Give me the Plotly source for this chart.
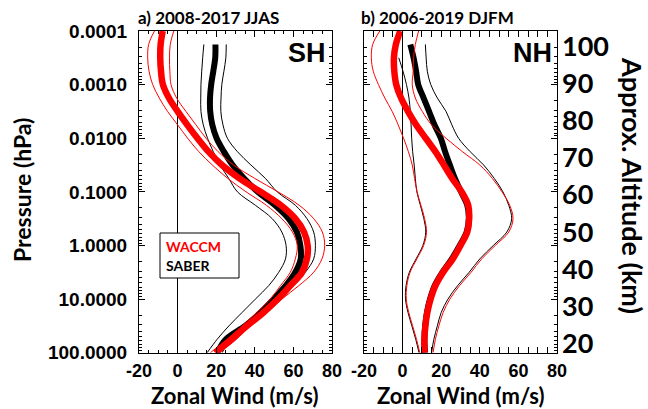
import plotly.graph_objects as go

# Pressure levels (hPa), top to bottom
PRESSURE = [0.0001, 0.000178, 0.000316, 0.000562, 0.001, 0.00178, 0.00316, 0.00562,
            0.01, 0.0178, 0.0316, 0.0562, 0.1, 0.178, 0.316, 0.562,
            1.0, 1.78, 3.16, 5.62, 10.0, 17.8, 31.6, 56.2, 100.0]

# ---- a) SH, 2008-2017 JJAS ----
SH_WACCM = [-7.7, -8.8, -9.0, -8.6, -7.6, -4.5, 0.0, 5.0, 10.3, 16.0, 23.0, 32.0, 43.0,
            53.5, 61.0, 65.5, 67.4, 67.0, 64.5, 58.4, 52.0, 44.5, 36.0, 28.0, 19.5]
SH_WACCM_LO = [-12.0, -15.0, -15.5, -14.8, -12.9, -9.5, -5.2, 0.0, 5.2, 11.0, 18.0, 26.0, 35.5,
               46.0, 54.0, 59.5, 62.0, 61.0, 58.4, 53.3, 48.0, 41.0, 33.4, 25.7, 17.0]
SH_WACCM_HI = [-2.0, -3.8, -4.2, -4.0, -3.4, -0.5, 4.3, 9.5, 14.7, 21.0, 29.0, 40.0, 52.0,
               63.0, 70.5, 75.0, 76.2, 74.8, 70.5, 62.8, 54.0, 45.5, 37.0, 30.5, 21.4]
SH_SABER = [None, 19.6, 19.5, 18.5, 17.4, 16.8, 16.9, 18.0, 20.2, 24.0, 28.5, 34.5, 41.5,
            50.5, 57.5, 61.8, 63.6, 63.8, 61.0, 56.0, 49.8, 43.0, 35.0, 25.0, 20.5]
SH_SABER_LO = [None, 13.6, 13.0, 12.5, 12.1, 12.0, 12.1, 13.3, 15.5, 18.5, 22.0, 26.5, 31.0,
               40.3, 49.0, 54.0, 56.2, 55.9, 52.4, 47.2, 40.3, 33.4, 26.6, 20.5, 15.3]
SH_SABER_HI = [None, 25.2, 25.0, 24.0, 22.9, 22.5, 22.4, 23.5, 25.8, 31.0, 38.0, 45.5, 51.6,
               61.0, 67.0, 70.5, 71.4, 70.5, 66.2, 60.2, 52.4, 43.0, 33.4, 27.0, 23.1]

# ---- b) NH, 2006-2019 DJFM ----
NH_WACCM = [-1.2, -3.5, -4.5, -4.3, -3.3, -0.8, 2.8, 7.0, 12.0, 17.0, 21.4, 25.7, 30.6,
            34.0, 34.5, 33.5, 30.0, 26.0, 21.0, 17.0, 14.5, 12.8, 11.8, 11.3, 11.3]
NH_WACCM_LO = [-11.8, -15.5, -16.2, -15.2, -12.5, -9.2, -5.4, -2.3, 0.5, 3.0, 5.0, 6.2, 7.5,
               9.5, 11.4, 12.4, 10.9, 7.4, 3.9, 2.2, 1.9, 3.2, 5.2, 7.2, 8.9]
NH_WACCM_HI = [8.3, 6.6, 5.7, 5.5, 5.0, 6.6, 10.2, 15.0, 22.5, 31.0, 40.0, 46.5, 51.5,
               55.5, 57.2, 55.0, 48.0, 41.0, 35.5, 29.5, 24.5, 21.0, 18.8, 17.0, 15.8]
NH_SABER = [None, 4.0, 5.7, 7.0, 8.1, 10.9, 13.7, 16.5, 19.8, 22.0, 24.5, 27.1, 30.3,
            33.5, 34.3, 33.2, 29.6, 25.5, 20.6, 16.6, 14.2, 12.6, 11.7, 11.3, 11.6]
NH_SABER_LO = [None, None, -2.0, 0.2, 2.0, 3.3, 4.0, 4.4, 4.7, 5.2, 6.0, 6.6, 7.4,
               9.2, 11.0, 12.0, 10.5, 7.0, 3.5, 1.8, 1.5, 2.8, 4.8, 6.8, 8.5]
NH_SABER_HI = [None, 11.8, 12.2, 12.8, 14.6, 18.0, 22.5, 25.5, 29.0, 35.0, 42.0, 47.5, 52.0,
               55.0, 56.5, 54.0, 47.0, 40.0, 34.5, 28.5, 23.5, 20.0, 18.0, 16.2, 15.0]

# Axis ticks
P_TICKS = [0.0001, 0.001, 0.01, 0.1, 1, 10, 100]
P_TICKTEXT = ["0.0001", "0.0010", "0.0100", "0.1000", "1.0000", "10.0000", "100.0000"]
P_MINOR = [m * 10.0 ** e for e in range(-4, 2) for m in range(2, 10)]
U_TICKS = [-20, 0, 20, 40, 60, 80]
U_TICKTEXT = ["-20", "0", "20", "40", "60", "80"]
U_MINOR = [v for v in range(-20, 81, 5) if v % 20 != 0]
ALT_TICKS = [20, 30, 40, 50, 60, 70, 80, 90, 100]

W, H = 648, 409
def px(x): return x / W
def py(y): return 1 - y / H

fig = go.Figure()

def add_set(xa, ya, saber, saber_lo, saber_hi, waccm, waccm_lo, waccm_hi):
    for vals, col, wd in [(saber_lo, "black", 1), (saber_hi, "black", 1), (saber, "black", 6),
                          (waccm_lo, "#ff0000", 1), (waccm_hi, "#ff0000", 1), (waccm, "#ff0000", 6.5)]:
        fig.add_trace(go.Scatter(x=vals, y=PRESSURE, mode="lines", xaxis=xa, yaxis=ya,
                                 line=dict(color=col, width=wd, shape="spline", smoothing=1.0),
                                 showlegend=False, hoverinfo="skip"))

add_set("x", "y", SH_SABER, SH_SABER_LO, SH_SABER_HI, SH_WACCM, SH_WACCM_LO, SH_WACCM_HI)
add_set("x2", "y2", NH_SABER, NH_SABER_LO, NH_SABER_HI, NH_WACCM, NH_WACCM_LO, NH_WACCM_HI)
# empty trace so the altitude axis (y3) gets drawn
fig.add_trace(go.Scatter(x=[None], y=[None], xaxis="x2", yaxis="y3", mode="lines",
                         showlegend=False, hoverinfo="skip"))

tickfont = dict(family="Liberation Sans", size=19, color="black", weight="bold")
xtickfont = dict(family="Liberation Sans", size=18, color="black", weight="bold")

xcommon = dict(range=[-20, 80], tickvals=U_TICKS, ticktext=U_TICKTEXT, ticks="inside",
               ticklen=6, tickwidth=1,
               tickcolor="black", showline=True, linecolor="black", linewidth=1,
               mirror="allticks", showgrid=False, zeroline=True, zerolinecolor="black",
               zerolinewidth=1, tickfont=xtickfont, ticklabelstandoff=2, automargin=False,
               minor=dict(tickvals=U_MINOR, ticks="inside", ticklen=3, tickcolor="black",
                          showgrid=False))
ycommon = dict(type="log", range=[2, -4], tickvals=P_TICKS, ticks="inside",
               ticklen=6, tickwidth=1, tickcolor="black", showline=True, linecolor="black",
               linewidth=1, mirror="allticks", showgrid=False, zeroline=False, automargin=False,
               minor=dict(tickvals=P_MINOR, ticks="inside", ticklen=3, tickcolor="black",
                          showgrid=False))

fig.update_layout(
    width=W, height=H, margin=dict(l=0, r=0, t=0, b=0, pad=0, autoexpand=False),
    paper_bgcolor="white", plot_bgcolor="white",
    xaxis=dict(domain=[px(139), px(332)], anchor="y", **xcommon),
    yaxis=dict(domain=[py(352.7), py(31)], anchor="x", ticktext=P_TICKTEXT,
               tickfont=tickfont, ticklabelstandoff=7, **ycommon),
    xaxis2=dict(domain=[px(364), px(557)], anchor="y2", **xcommon),
    yaxis2=dict(domain=[py(352.7), py(31)], anchor="x2", showticklabels=False, **ycommon),
    yaxis3=dict(overlaying="y2", anchor="x2", side="right", range=[17.5, 104.2],
                tickvals=ALT_TICKS, ticks="", showline=False, showgrid=False, zeroline=False,
                automargin=False,
                tickfont=dict(family="Lato", size=27, color="black", weight="bold"),
                ticklabelstandoff=4),
)

# Legend box
fig.add_shape(type="rect", xref="paper", yref="paper", x0=px(160), x1=px(239),
              y0=py(278), y1=py(233), line=dict(color="black", width=1), fillcolor="white")

def ann(text, x, y, size, family="Lato", color="black", xanchor="left", angle=0):
    fig.add_annotation(text=text, xref="paper", yref="paper", x=px(x), y=py(y),
                       xanchor=xanchor, yanchor="middle", showarrow=False, textangle=angle,
                       borderpad=0,
                       font=dict(family=family, size=size, color=color, weight="bold"))

ann("WACCM", 165, 246.5, 14, color="#ff0000")
ann("SABER", 165, 265, 14)
ann("a) 2008-2017 JJAS", 137, 17, 17)
ann("b) 2006-2019 DJFM", 360, 17, 17)
ann("SH", 327, 53, 27, family="Liberation Sans", xanchor="right")
ann("NH", 553, 53, 27, family="Liberation Sans", xanchor="right")
ann("Zonal Wind (m/s)", 235, 395.5, 22, xanchor="center")
ann("Zonal Wind (m/s)", 461, 395.5, 22, xanchor="center")
ann("Pressure (hPa)", 22, 190, 23, xanchor="center", angle=-90)
ann("Approx. Altitude (km)", 632, 185, 27, xanchor="center", angle=90)

fig.write_html("out.html")
